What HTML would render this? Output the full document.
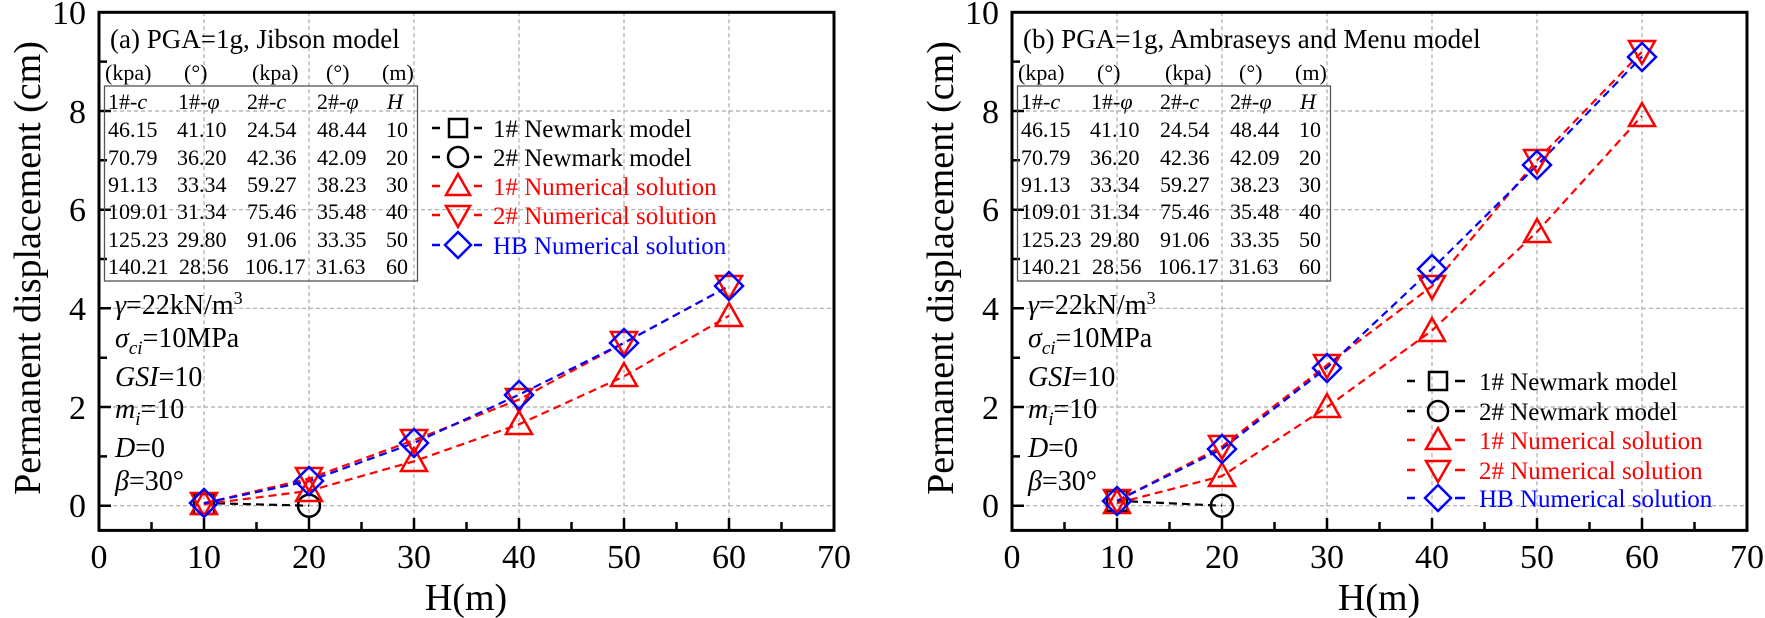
<!DOCTYPE html>
<html><head><meta charset="utf-8"><style>
html,body{margin:0;padding:0;background:#fff}
svg{display:block;font-family:"Liberation Serif",serif}
</style></head><body>
<svg width="1765" height="618" viewBox="0 0 1765 618" xmlns="http://www.w3.org/2000/svg">
<defs>
<g id="frame">
  <g stroke="#aaa" stroke-width="1.2" stroke-dasharray="4,3">
    <line x1="204" y1="12.3" x2="204" y2="530.4"/><line x1="309" y1="12.3" x2="309" y2="530.4"/>
    <line x1="414" y1="12.3" x2="414" y2="530.4"/><line x1="519" y1="12.3" x2="519" y2="530.4"/>
    <line x1="624" y1="12.3" x2="624" y2="530.4"/><line x1="729" y1="12.3" x2="729" y2="530.4"/>
    <line x1="99" y1="505.7" x2="834" y2="505.7"/><line x1="99" y1="407" x2="834" y2="407"/>
    <line x1="99" y1="308.3" x2="834" y2="308.3"/><line x1="99" y1="209.7" x2="834" y2="209.7"/>
    <line x1="99" y1="111" x2="834" y2="111"/>
  </g>
  <g stroke="#000" stroke-width="2.5">
    <path d="M204 530V518M309 530V518M414 530V518M519 530V518M624 530V518M729 530V518M151.5 530V522M256.5 530V522M361.5 530V522M466.5 530V522M571.5 530V522M676.5 530V522M781.5 530V522"/>
    <path d="M99 505.7H111M99 407H111M99 308.3H111M99 209.7H111M99 111H111M99 456.4H107M99 357.7H107M99 259H107M99 160.3H107M99 61.6H107"/>
    <rect x="99" y="12.3" width="735" height="518.1" fill="none" stroke-width="3"/>
  </g>
  <g font-size="34" text-anchor="middle">
    <text x="99" y="568">0</text><text x="204" y="568">10</text><text x="309" y="568">20</text><text x="414" y="568">30</text><text x="519" y="568">40</text><text x="624" y="568">50</text><text x="729" y="568">60</text><text x="834" y="568">70</text>
  </g>
  <g font-size="34" text-anchor="end">
    <text x="86" y="517">0</text><text x="86" y="419">2</text><text x="86" y="320">4</text><text x="86" y="221">6</text><text x="86" y="123">8</text><text x="86" y="24">10</text>
  </g>
  <text x="466" y="610" font-size="38" text-anchor="middle">H(m)</text>
  <text transform="translate(40,268) rotate(-90)" font-size="38" text-anchor="middle">Permanent displacement (cm)</text>
  <g font-size="22">
    <text x="105" y="80">(kpa)</text><text x="184" y="80">(°)</text><text x="252" y="80">(kpa)</text><text x="326" y="80">(°)</text><text x="382" y="80">(m)</text>
    <rect x="104.5" y="86" width="313" height="195" fill="none" stroke="#555" stroke-width="1.3"/>
    <text x="108" y="109">1#-<tspan font-style="italic">c</tspan></text><text x="178" y="109">1#-<tspan font-style="italic">φ</tspan></text><text x="247" y="109">2#-<tspan font-style="italic">c</tspan></text><text x="317" y="109">2#-<tspan font-style="italic">φ</tspan></text><text x="387" y="109" font-style="italic">H</text>
    <text x="108" y="137">46.15</text><text x="177" y="137">41.10</text><text x="247" y="137">24.54</text><text x="317" y="137">48.44</text><text x="386" y="137">10</text>
    <text x="108" y="165">70.79</text><text x="177" y="165">36.20</text><text x="247" y="165">42.36</text><text x="317" y="165">42.09</text><text x="386" y="165">20</text>
    <text x="108" y="192">91.13</text><text x="177" y="192">33.34</text><text x="247" y="192">59.27</text><text x="317" y="192">38.23</text><text x="386" y="192">30</text>
    <text x="108" y="219">109.01</text><text x="177" y="219">31.34</text><text x="247" y="219">75.46</text><text x="317" y="219">35.48</text><text x="386" y="219">40</text>
    <text x="108" y="247">125.23</text><text x="177" y="247">29.80</text><text x="247" y="247">91.06</text><text x="317" y="247">33.35</text><text x="386" y="247">50</text>
    <text x="108" y="274">140.21</text><text x="179" y="274">28.56</text><text x="245" y="274">106.17</text><text x="316" y="274">31.63</text><text x="386" y="274">60</text>
  </g>
  <g font-size="28">
    <text x="115" y="314"><tspan font-style="italic">γ</tspan>=22kN/m<tspan dy="-10" font-size="18">3</tspan></text>
    <text x="115" y="347"><tspan font-style="italic">σ</tspan><tspan font-style="italic" font-size="19" dy="7">ci</tspan><tspan dy="-7">=10MPa</tspan></text>
    <text x="115" y="386"><tspan font-style="italic">GSI</tspan>=10</text>
    <text x="115" y="418"><tspan font-style="italic">m</tspan><tspan font-style="italic" font-size="19" dy="7">i</tspan><tspan dy="-7">=10</tspan></text>
    <text x="115" y="457"><tspan font-style="italic">D</tspan>=0</text>
    <text x="115" y="490"><tspan font-style="italic">β</tspan>=30°</text>
  </g>
</g>
</defs>

<use href="#frame"/>
<use href="#frame" transform="translate(913,0)"/>

<text x="110" y="48" font-size="27">(a) PGA=1g, Jibson model</text>
<text x="1023" y="48" font-size="27">(b) PGA=1g, Ambraseys and Menu model</text>

<g fill="none" stroke-width="2.2" stroke-dasharray="8,5">
  <polyline stroke="#000" points="204,503 309,505.7"/>
  <polyline stroke="#f00" points="204,504.2 309,490.9 414,461.3 519,424.3 624,376.4 729,315.7"/>
  <polyline stroke="#f00" points="204,503.2 309,478.6 414,440.1 519,399.6 624,342.9 729,286.1"/>
  <polyline stroke="#00f" points="204,503.2 309,481 414,443 519,394.7 624,342.9 729,286.1"/>
</g>
<g fill="none" stroke-width="2.5">
  <rect x="194" y="494" width="20" height="20" stroke="#000"/>
  <circle cx="309" cy="505.7" r="11" stroke="#000"/>
  <g stroke="#f00">
    <polygon points="204,491 191,514 217,514"/><polygon points="309,478 296,501 322,501"/><polygon points="414,448 401,471 427,471"/><polygon points="519,411 506,434 532,434"/><polygon points="624,363 611,386 637,386"/><polygon points="729,303 716,326 742,326"/>
    <polygon points="204,516 191,493 217,493"/><polygon points="309,491 296,468 322,468"/><polygon points="414,453 401,430 427,430"/><polygon points="519,412 506,389 532,389"/><polygon points="624,355 611,332 637,332"/><polygon points="729,299 716,276 742,276"/>
  </g>
  <g stroke="#00f">
    <polygon points="204,489 218,503 204,517 190,503"/><polygon points="309,467 323,481 309,495 295,481"/><polygon points="414,429 428,443 414,457 400,443"/><polygon points="519,381 533,395 519,409 505,395"/><polygon points="624,329 638,343 624,357 610,343"/><polygon points="729,272 743,286 729,300 715,286"/>
  </g>
</g>

<g fill="none" stroke-width="2.2" stroke-dasharray="8,5">
  <polyline stroke="#000" points="1117,500.8 1222,505.7"/>
  <polyline stroke="#f00" points="1117,503.2 1222,476.1 1327,407 1432,330.5 1537,231.9 1642,115.9"/>
  <polyline stroke="#f00" points="1117,500.8 1222,446.5 1327,365.1 1432,286.1 1537,160.3 1642,51.8"/>
  <polyline stroke="#00f" points="1117,500.8 1222,449 1327,367.6 1432,268.9 1537,165.3 1642,56.7"/>
</g>
<g fill="none" stroke-width="2.5">
  <rect x="1107" y="491" width="20" height="20" stroke="#000"/>
  <circle cx="1222" cy="505.7" r="11" stroke="#000"/>
  <g stroke="#f00">
    <polygon points="1117,490 1104,513 1130,513"/><polygon points="1222,463 1209,486 1235,486"/><polygon points="1327,394 1314,417 1340,417"/><polygon points="1432,318 1419,341 1445,341"/><polygon points="1537,219 1524,242 1550,242"/><polygon points="1642,103 1629,126 1655,126"/>
    <polygon points="1117,513 1104,490 1130,490"/><polygon points="1222,459 1209,436 1235,436"/><polygon points="1327,378 1314,355 1340,355"/><polygon points="1432,299 1419,276 1445,276"/><polygon points="1537,173 1524,150 1550,150"/><polygon points="1642,64 1629,41 1655,41"/>
  </g>
  <g stroke="#00f">
    <polygon points="1117,487 1131,501 1117,515 1103,501"/><polygon points="1222,435 1236,449 1222,463 1208,449"/><polygon points="1327,354 1341,368 1327,382 1313,368"/><polygon points="1432,255 1446,269 1432,283 1418,269"/><polygon points="1537,151 1551,165 1537,179 1523,165"/><polygon points="1642,43 1656,57 1642,71 1628,57"/>
  </g>
</g>

<g font-size="25">
  <g stroke-width="2.5" fill="none">
    <path d="M432 128H440M474 128H482" stroke="#000"/><rect x="449" y="119" width="18" height="18" stroke="#000"/>
    <path d="M432 157H440M474 157H482" stroke="#000"/><circle cx="458" cy="157" r="10" stroke="#000"/>
    <path d="M432 186H440M474 186H482" stroke="#f00"/><polygon points="458,174 446,195 470,195" stroke="#f00"/>
    <path d="M432 215H440M474 215H482" stroke="#f00"/><polygon points="458,227 446,206 470,206" stroke="#f00"/>
    <path d="M432 245H440M474 245H482" stroke="#00f"/><polygon points="458,232 471,245 458,258 445,245" stroke="#00f"/>
  </g>
  <text x="493" y="137">1# Newmark model</text>
  <text x="493" y="166">2# Newmark model</text>
  <text x="493" y="195" fill="#f00">1# Numerical solution</text>
  <text x="493" y="224" fill="#f00">2# Numerical solution</text>
  <text x="493" y="254" fill="#00f">HB Numerical solution</text>
</g>
<g font-size="25">
  <g stroke-width="2.5" fill="none">
    <path d="M1407 381H1415M1455 381H1465" stroke="#000"/><rect x="1429" y="372" width="18" height="18" stroke="#000"/>
    <path d="M1407 411H1415M1455 411H1465" stroke="#000"/><circle cx="1438" cy="411" r="10" stroke="#000"/>
    <path d="M1407 440H1415M1455 440H1465" stroke="#f00"/><polygon points="1438,428 1426,449 1450,449" stroke="#f00"/>
    <path d="M1407 470H1415M1455 470H1465" stroke="#f00"/><polygon points="1438,482 1426,461 1450,461" stroke="#f00"/>
    <path d="M1407 498H1415M1455 498H1465" stroke="#00f"/><polygon points="1438,485 1451,498 1438,511 1425,498" stroke="#00f"/>
  </g>
  <text x="1479" y="390">1# Newmark model</text>
  <text x="1479" y="420">2# Newmark model</text>
  <text x="1479" y="449" fill="#f00">1# Numerical solution</text>
  <text x="1479" y="479" fill="#f00">2# Numerical solution</text>
  <text x="1479" y="507" fill="#00f">HB Numerical solution</text>
</g>
</svg>
</body></html>
